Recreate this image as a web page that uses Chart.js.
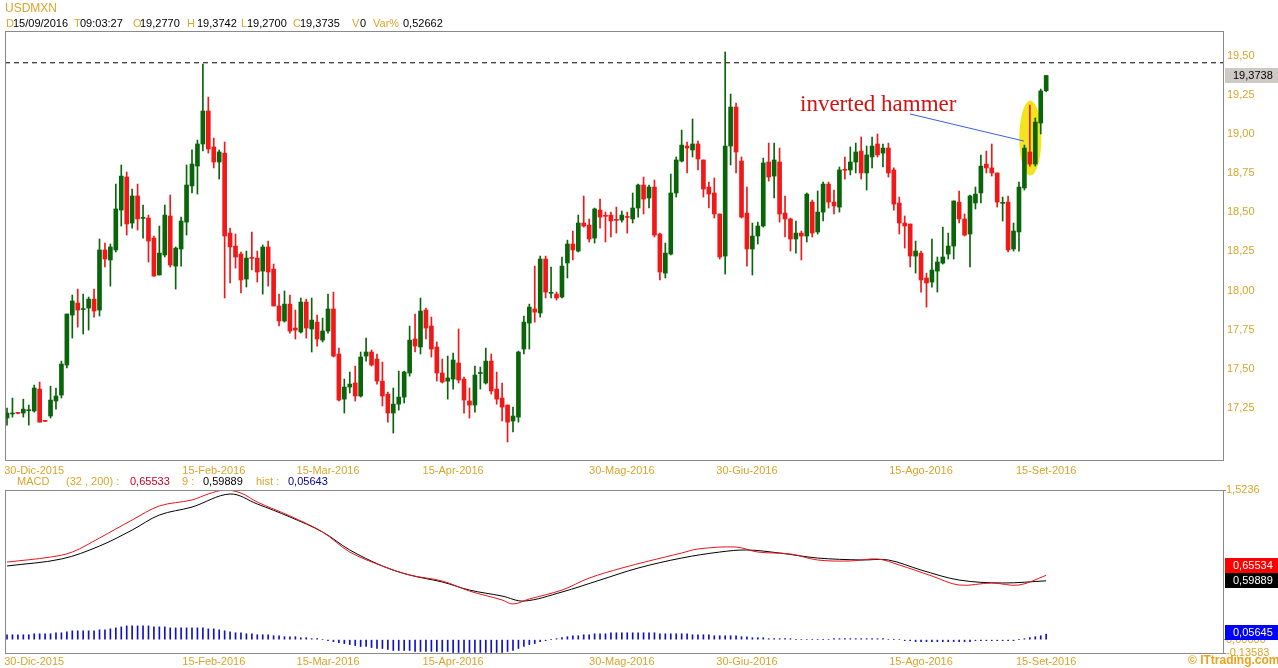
<!DOCTYPE html>
<html>
<head>
<meta charset="utf-8">
<script src="https://cdn.jsdelivr.net/npm/chart.js@4.4.0/dist/chart.umd.min.js"></script>
<style>
body{margin:0;background:#fff;width:1278px;height:668px;overflow:hidden;position:relative;font-family:"Liberation Sans",Arial,sans-serif;}
canvas{position:absolute;left:0;}
#c1{top:0;}
#c2{top:478px;}
.t{position:absolute;font-size:11px;line-height:13px;white-space:nowrap;color:#000;}
.g{color:#d9a52c;}
</style>
</head>
<body>
<canvas id="c1" width="1278" height="478"></canvas>
<canvas id="c2" width="1278" height="190"></canvas>

<div class="t g" style="left:5px;top:2px;font-size:12px">USDMXN</div>
<div class="t g" style="left:6px;top:17px">D</div><div class="t" style="left:13px;top:17px">15/09/2016</div>
<div class="t g" style="left:74px;top:17px">T</div><div class="t" style="left:80px;top:17px">09:03:27</div>
<div class="t g" style="left:133px;top:17px">O</div><div class="t" style="left:140px;top:17px">19,2770</div>
<div class="t g" style="left:187px;top:17px">H</div><div class="t" style="left:197px;top:17px">19,3742</div>
<div class="t g" style="left:241px;top:17px">L</div><div class="t" style="left:247px;top:17px">19,2700</div>
<div class="t g" style="left:293px;top:17px">C</div><div class="t" style="left:300px;top:17px">19,3735</div>
<div class="t g" style="left:352px;top:17px">V</div><div class="t" style="left:360px;top:17px">0</div>
<div class="t g" style="left:373px;top:17px">Var%</div><div class="t" style="left:403px;top:17px">0,52662</div>

<div class="t g" style="left:17px;top:475px">MACD</div>
<div class="t g" style="left:66px;top:475px">(32 , 200) :</div>
<div class="t" style="left:130px;top:475px;color:#cc0022">0,65533</div>
<div class="t g" style="left:182px;top:475px">9 :</div>
<div class="t" style="left:203px;top:475px">0,59889</div>
<div class="t g" style="left:256px;top:475px">hist :</div>
<div class="t" style="left:288px;top:475px;color:#000099">0,05643</div>

<div class="t" style="left:1188px;top:654px;font-size:12px;font-weight:bold;color:#eea21c">© ITtrading.com</div>

<script>
// USDMXN daily, 23 Dec 2015 .. 15 Sep 2016 (index 0 .. 191)
const open = [
17.185,17.211,17.220,17.217,17.232,17.230,17.370,17.167,17.198,17.294,
17.332,17.524,17.843,17.920,17.878,17.888,17.945,17.875,18.259,18.195,
18.259,18.514,18.725,18.431,18.604,18.461,18.463,18.335,18.099,18.227,
18.476,18.156,18.265,18.437,18.668,18.795,18.936,19.147,18.917,18.821,
18.878,18.367,18.284,18.233,18.073,18.209,18.207,18.124,18.278,18.137,
17.901,17.805,17.913,17.760,17.735,17.926,17.754,17.798,17.683,17.741,
17.882,17.594,17.306,17.383,17.409,17.326,17.581,17.607,17.562,17.421,
17.338,17.217,17.274,17.319,17.473,17.690,17.639,17.875,17.773,17.639,
17.473,17.421,17.434,17.537,17.434,17.294,17.268,17.470,17.409,17.549,
17.370,17.313,17.268,17.166,17.191,17.626,17.792,17.882,17.856,18.201,
17.982,17.977,17.958,18.176,18.297,18.252,18.431,18.418,18.335,18.514,
18.478,18.482,18.452,18.450,18.471,18.457,18.527,18.674,18.591,18.661,
18.361,18.111,18.233,18.623,18.827,18.923,18.898,18.936,18.834,18.661,
18.623,18.489,18.220,18.923,19.172,18.827,18.495,18.265,18.348,18.412,
18.821,18.731,18.821,18.495,18.457,18.329,18.367,18.348,18.565,18.374,
18.501,18.680,18.565,18.533,18.772,18.770,18.821,18.891,18.751,18.853,
18.936,18.878,18.910,18.770,18.559,18.431,18.425,18.220,18.239,18.080,
18.054,18.124,18.175,18.233,18.284,18.565,18.457,18.361,18.559,18.623,
18.808,18.783,18.751,18.557,18.565,18.265,18.374,18.655,18.885,18.808,
19.070,19.277];
const high = [
17.249,17.313,17.218,17.306,17.268,17.396,17.415,17.167,17.389,17.377,
17.549,17.850,17.971,18.009,17.977,17.958,18.009,18.329,18.303,18.297,
18.680,18.802,18.757,18.648,18.680,18.546,18.482,18.348,18.412,18.546,
18.610,18.278,18.469,18.802,18.898,18.961,19.447,19.236,18.974,18.898,
18.949,18.399,18.361,18.246,18.252,18.374,18.252,18.291,18.316,18.169,
17.977,17.997,17.971,17.875,17.952,17.945,17.952,17.843,17.824,17.977,
17.990,17.632,17.434,17.479,17.517,17.607,17.696,17.620,17.594,17.543,
17.351,17.377,17.485,17.485,17.773,17.850,17.952,17.888,17.830,17.671,
17.562,17.581,17.600,17.754,17.447,17.377,17.517,17.511,17.632,17.594,
17.479,17.409,17.268,17.255,17.613,17.837,17.913,18.156,18.220,18.220,
18.150,17.990,18.214,18.322,18.380,18.482,18.604,18.457,18.527,18.584,
18.501,18.501,18.533,18.508,18.501,18.623,18.680,18.725,18.674,18.706,
18.367,18.303,18.744,18.853,19.025,18.949,19.096,18.955,18.834,18.693,
18.719,18.489,19.524,19.255,19.198,18.853,18.661,18.431,18.437,18.846,
18.942,18.942,18.910,18.604,18.463,18.444,18.380,18.623,18.578,18.636,
18.693,18.693,18.642,18.789,18.853,18.917,18.942,18.981,18.923,18.981,
19.000,18.936,18.942,18.783,18.597,18.476,18.425,18.316,18.252,18.111,
18.329,18.214,18.405,18.367,18.572,18.636,18.489,18.610,18.661,18.866,
18.891,18.936,18.751,18.597,18.604,18.431,18.693,18.929,19.185,19.102,
19.287,19.3742];
const low = [
17.140,17.191,17.212,17.191,17.140,17.223,17.159,17.164,17.185,17.242,
17.313,17.505,17.696,17.766,17.722,17.747,17.830,17.837,18.150,18.028,
18.246,18.412,18.354,18.399,18.386,18.335,18.182,18.092,18.099,18.214,
18.150,18.009,18.156,18.354,18.623,18.616,18.891,18.878,18.783,18.712,
17.952,18.048,18.143,17.984,18.022,18.131,18.054,17.977,18.028,17.901,
17.773,17.798,17.728,17.690,17.728,17.696,17.607,17.645,17.671,17.728,
17.575,17.294,17.217,17.345,17.294,17.319,17.549,17.517,17.402,17.262,
17.159,17.089,17.236,17.281,17.453,17.607,17.594,17.690,17.575,17.421,
17.409,17.306,17.370,17.409,17.217,17.185,17.223,17.370,17.402,17.338,
17.274,17.166,17.032,17.096,17.159,17.594,17.626,17.798,17.830,17.952,
17.952,17.939,17.952,18.080,18.195,18.246,18.405,18.310,18.303,18.399,
18.310,18.342,18.367,18.437,18.367,18.431,18.469,18.489,18.527,18.342,
18.067,18.080,18.227,18.597,18.821,18.751,18.853,18.770,18.597,18.527,
18.463,18.201,18.105,18.802,18.751,18.463,18.156,18.099,18.297,18.405,
18.699,18.591,18.437,18.342,18.252,18.239,18.195,18.310,18.342,18.361,
18.444,18.527,18.489,18.501,18.712,18.738,18.751,18.712,18.642,18.783,
18.853,18.789,18.725,18.514,18.361,18.271,18.150,18.111,17.990,17.894,
18.022,17.990,18.169,18.201,18.201,18.431,18.348,18.150,18.521,18.559,
18.751,18.731,18.533,18.444,18.246,18.252,18.252,18.642,18.795,18.795,
19.000,19.270];
const close = [
17.217,17.217,17.215,17.242,17.236,17.377,17.159,17.164,17.300,17.326,
17.530,17.850,17.933,17.875,17.882,17.945,17.869,18.259,18.201,18.278,
18.521,18.731,18.425,18.604,18.457,18.465,18.316,18.092,18.239,18.482,
18.163,18.271,18.444,18.674,18.808,18.936,19.147,18.904,18.821,18.885,
18.348,18.278,18.214,18.067,18.207,18.205,18.118,18.278,18.118,17.901,
17.805,17.913,17.741,17.747,17.926,17.760,17.811,17.690,17.741,17.882,
17.581,17.300,17.383,17.402,17.326,17.575,17.607,17.524,17.421,17.326,
17.217,17.274,17.319,17.479,17.683,17.645,17.869,17.760,17.626,17.473,
17.415,17.441,17.556,17.428,17.300,17.268,17.460,17.475,17.549,17.358,
17.306,17.255,17.159,17.198,17.607,17.798,17.894,17.862,18.201,17.990,
17.986,17.952,18.156,18.297,18.259,18.431,18.412,18.329,18.521,18.469,
18.474,18.444,18.448,18.482,18.467,18.527,18.674,18.584,18.661,18.354,
18.118,18.239,18.623,18.834,18.929,18.910,18.936,18.840,18.648,18.616,
18.489,18.214,18.923,19.172,18.885,18.469,18.265,18.348,18.412,18.815,
18.725,18.834,18.489,18.457,18.329,18.367,18.348,18.616,18.367,18.501,
18.680,18.565,18.540,18.770,18.768,18.821,18.885,18.751,18.866,18.923,
18.866,18.910,18.751,18.552,18.431,18.412,18.220,18.252,18.067,18.048,
18.131,18.182,18.214,18.284,18.572,18.457,18.354,18.604,18.616,18.795,
18.783,18.751,18.565,18.561,18.259,18.380,18.661,18.910,18.808,19.076,
19.275,19.3735];

// MACD panel, read at sample days
const macdDay = [0,8,12,17,23,28,34,37,40,43,46,52,58,63,69,74,80,85,91,93,96,102,107,113,118,124,127,134,138,144,149,155,160,164,170,175,181,186,191];
const macdVal = [0.790,0.841,0.892,1.035,1.218,1.361,1.422,1.483,1.523,1.493,1.401,1.259,1.096,0.892,0.750,0.658,0.597,0.495,0.404,0.363,0.414,0.505,0.627,0.729,0.801,0.882,0.923,0.943,0.892,0.872,0.811,0.801,0.821,0.760,0.648,0.556,0.577,0.556,0.655];
const signalDay = [0,10,17,23,28,34,41,46,52,58,63,69,74,80,85,91,95,102,109,116,124,131,136,142,149,157,162,168,175,183,191];
const signalVal = [0.750,0.821,0.953,1.116,1.269,1.350,1.483,1.381,1.249,1.096,0.913,0.750,0.658,0.587,0.505,0.444,0.393,0.485,0.607,0.729,0.831,0.892,0.913,0.882,0.831,0.811,0.811,0.709,0.607,0.577,0.599];
const hist = [
0.05,0.05,0.05,0.05,0.05,0.06,0.06,0.06,0.06,0.07,
0.07,0.08,0.09,0.09,0.09,0.09,0.09,0.10,0.10,0.11,
0.12,0.13,0.14,0.14,0.14,0.14,0.14,0.13,0.13,0.13,
0.12,0.12,0.12,0.12,0.12,0.12,0.12,0.11,0.11,0.10,
0.09,0.08,0.07,0.07,0.06,0.06,0.05,0.05,0.05,0.04,
0.04,0.03,0.03,0.03,0.02,0.02,0.01,0.01,0.00,-0.01,
-0.02,-0.03,-0.04,-0.05,-0.06,-0.07,-0.07,-0.08,-0.09,-0.09,
-0.10,-0.11,-0.11,-0.11,-0.11,-0.12,-0.12,-0.12,-0.12,-0.12,
-0.12,-0.12,-0.13,-0.13,-0.13,-0.13,-0.13,-0.13,-0.13,-0.13,
-0.13,-0.13,-0.12,-0.11,-0.09,-0.07,-0.05,-0.04,-0.02,-0.01,
0.00,0.01,0.02,0.03,0.04,0.04,0.05,0.05,0.06,0.06,
0.06,0.07,0.07,0.07,0.07,0.07,0.07,0.07,0.07,0.07,
0.06,0.06,0.06,0.06,0.06,0.06,0.05,0.05,0.05,0.05,
0.04,0.04,0.04,0.04,0.04,0.03,0.03,0.02,0.02,0.02,
0.01,0.01,0.01,0.01,0.01,0.00,0.00,0.00,0.00,0.00,
0.00,0.00,0.01,0.01,0.01,0.01,0.01,0.01,0.01,0.01,
0.01,0.01,0.00,0.00,0.00,-0.01,-0.01,-0.02,-0.02,-0.02,
-0.02,-0.02,-0.02,-0.02,-0.02,-0.02,-0.02,-0.02,-0.01,-0.01,
-0.01,-0.01,-0.01,-0.01,-0.01,-0.01,0.00,0.01,0.02,0.03,
0.04,0.056];

const tickDay = [5, 38, 59, 82, 113, 136, 168, 191];
const tickLabels = ['30-Dic-2015','15-Feb-2016','15-Mar-2016','15-Apr-2016','30-Mag-2016','30-Giu-2016','15-Ago-2016','15-Set-2016'];
const priceTicks = [17.25,17.5,17.75,18,18.25,18.5,18.75,19,19.25,19.5];
const macdTicks = [-0.13583, 0, 1.5236];
const macdTickLabels = ['-0,13583','0,00000','1,5236'];
const resistance = 19.455;
const lastPrice = 19.3738;
const lastMacd = 0.65534, lastSignal = 0.59889, lastHist = 0.05645;
const hammerDay = 188, hammerMid = 18.974;

const GREEN = '#0a640a', RED = '#f01818', GOLD = '#d9a52c', FRAME = '#8a8a8a';
const X_MIN = -0.37, X_MAX = 223.5;
const FONT = {family: '"Liberation Sans", Arial, sans-serif', size: 11};

const days = open.map((v, i) => i);
const candleColor = days.map(i => close[i] >= open[i] ? GREEN : RED);

function xAxis(h, pad) {
    return {
        type: 'linear', min: X_MIN, max: X_MAX, offset: false,
        grid: {display: false, drawTicks: false}, border: {display: false},
        afterBuildTicks: s => { s.ticks = tickDay.map(v => ({value: v})); },
        afterFit: s => { s.height = h; },
        ticks: {
            color: GOLD, font: FONT, padding: pad, maxRotation: 0, autoSkip: false,
            callback: v => tickLabels[tickDay.indexOf(v)]
        }
    };
}

function drawFrame(ch) {
    const a = ch.chartArea, ctx = ch.ctx;
    ctx.save();
    ctx.strokeStyle = FRAME;
    ctx.lineWidth = 1;
    ctx.strokeRect(Math.round(a.left) + 0.5, Math.round(a.top) + 0.5, Math.round(a.width), Math.round(a.height));
    ctx.restore();
}

function tag(ctx, y, bg, fg, text) {
    ctx.fillStyle = bg;
    ctx.fillRect(1225, Math.round(y - 7.5), 53, 15);
    ctx.fillStyle = fg;
    ctx.font = '11px "Liberation Sans", Arial, sans-serif';
    ctx.textBaseline = 'middle';
    ctx.textAlign = 'left';
    ctx.fillText(text, 1233, y + 0.5);
}

const pricePlugin = {
    id: 'priceDeco',
    beforeDatasetsDraw(ch) {
        const ctx = ch.ctx, x = ch.scales.x, y = ch.scales.y;
        ctx.save();
        ctx.fillStyle = '#f2e41e';
        ctx.beginPath();
        ctx.ellipse(x.getPixelForValue(hammerDay) + 0.5, y.getPixelForValue(hammerMid), 11, 37.5, 0, 0, Math.PI * 2);
        ctx.fill();
        ctx.restore();
    },
    afterDatasetsDraw(ch) {
        const ctx = ch.ctx, x = ch.scales.x, y = ch.scales.y;
        drawFrame(ch);
        const ex = x.getPixelForValue(hammerDay), ey = y.getPixelForValue(hammerMid);
        ctx.save();
        ctx.strokeStyle = '#3a5fe0';
        ctx.lineWidth = 1;
        ctx.beginPath();
        ctx.moveTo(910, 114);
        ctx.lineTo(ex - 6, ey + 3);
        ctx.stroke();
        ctx.fillStyle = '#d01414';
        ctx.font = '23px "Liberation Serif", "Times New Roman", serif';
        ctx.textBaseline = 'alphabetic';
        ctx.fillText('inverted hammer', 800, 111);
        tag(ctx, y.getPixelForValue(lastPrice), '#cdcac6', '#000', lastPrice.toFixed(4).replace('.', ','));
        ctx.restore();
    }
};

new Chart(document.getElementById('c1'), {
    data: {
        datasets: [
            {type: 'bar', data: days.map(i => ({x: i, y: [Math.min(open[i], close[i]), Math.max(open[i], close[i])]})),
             backgroundColor: candleColor, barThickness: 4, minBarLength: 1, grouped: false},
            {type: 'bar', data: days.map(i => ({x: i, y: [low[i], high[i]]})),
             backgroundColor: candleColor, barThickness: 1, grouped: false},
            {type: 'line', data: [{x: X_MIN, y: resistance}, {x: X_MAX, y: resistance}],
             borderColor: '#000', borderWidth: 1, borderDash: [5, 4], pointRadius: 0}
        ]
    },
    options: {
        responsive: false, animation: false,
        layout: {padding: {left: 5, top: 31, right: 0, bottom: 0}},
        plugins: {legend: {display: false}, tooltip: {enabled: false}},
        scales: {
            x: xAxis(18, 4),
            y: {
                position: 'right', min: 16.917, max: 19.658, beginAtZero: false,
                grid: {display: false, drawTicks: false}, border: {display: false},
                afterBuildTicks: s => { s.ticks = priceTicks.map(v => ({value: v})); },
                afterFit: s => { s.width = 55; },
                ticks: {color: GOLD, font: FONT, padding: 4, callback: v => v.toFixed(2).replace('.', ',')}
            }
        }
    },
    plugins: [pricePlugin]
});

const macdPlugin = {
    id: 'macdDeco',
    afterDatasetsDraw(ch) {
        const ctx = ch.ctx, y = ch.scales.y;
        drawFrame(ch);
        ctx.save();
        const sy = y.getPixelForValue(lastSignal);
        tag(ctx, sy, '#000', '#fff', lastSignal.toFixed(5).replace('.', ','));
        tag(ctx, sy - 15, '#ff0000', '#fff', lastMacd.toFixed(5).replace('.', ','));
        tag(ctx, y.getPixelForValue(lastHist) - 1.5, '#0000ff', '#fff', lastHist.toFixed(5).replace('.', ','));
        ctx.restore();
    }
};

new Chart(document.getElementById('c2'), {
    data: {
        datasets: [
            {type: 'line', data: macdDay.map((d, i) => ({x: d, y: macdVal[i]})),
             borderColor: '#e8141c', borderWidth: 1, pointRadius: 0, tension: 0.35},
            {type: 'line', data: signalDay.map((d, i) => ({x: d, y: signalVal[i]})),
             borderColor: '#000', borderWidth: 1, pointRadius: 0, tension: 0.35},
            {type: 'bar', data: days.map(i => ({x: i, y: hist[i]})),
             backgroundColor: '#1010c8', barThickness: 1, grouped: false}
        ]
    },
    options: {
        responsive: false, animation: false,
        layout: {padding: {left: 5, top: 12, right: 0, bottom: 0}},
        plugins: {legend: {display: false}, tooltip: {enabled: false}},
        scales: {
            x: xAxis(15, 2),
            y: {
                position: 'right', min: -0.13583, max: 1.5236, beginAtZero: false,
                grid: {drawOnChartArea: false, tickLength: 3, color: FRAME}, border: {display: false},
                afterBuildTicks: s => { s.ticks = macdTicks.map(v => ({value: v})); },
                afterFit: s => { s.width = 55; },
                ticks: {color: GOLD, font: FONT, padding: 0, callback: v => macdTickLabels[macdTicks.indexOf(v)]}
            }
        }
    },
    plugins: [macdPlugin]
});
</script>
</body>
</html>
